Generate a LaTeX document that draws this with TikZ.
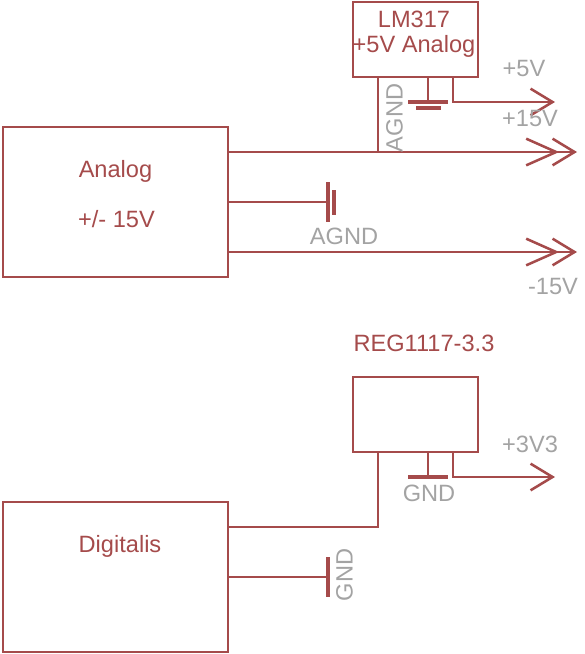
\documentclass[tikz,border=0pt]{standalone}
\usepackage{fontspec}
\setmainfont{Liberation Sans}
\usetikzlibrary{arrows.meta}
\definecolor{wirered}{HTML}{A54B4B}
\definecolor{pingray}{HTML}{A3A3A3}
\tikzset{
 block/.style={draw=wirered,line width=1.9pt,rectangle,inner sep=0pt},
 wire/.style={draw=wirered,line width=1.9pt},
 bar/.style={draw=wirered,line width=2.7pt},
 redtxt/.style={text=wirered,inner sep=0pt},
 graytxt/.style={text=pingray,inner sep=0pt},
 chev/.style={-{Straight Barb[length=16.5pt,width=20pt,line width=1.9pt]}},
 dblchev/.style={-{Straight Barb[length=22.5pt,width=20pt,line width=1.9pt,sep=-6pt]Straight Barb[length=16.5pt,width=20pt,line width=1.9pt]}}
}
\begin{document}
\begin{tikzpicture}[x=.75pt,y=-.75pt,font=\fontsize{17.7}{20}\selectfont]
\useasboundingbox (0,0) rectangle (585,654);
% blocks
\node[block,minimum width=168.75pt,minimum height=112.5pt] (analog) at (115.5,202) {};
\node[block,minimum width=168.75pt,minimum height=112.5pt] (digitalis) at (115.5,577) {};
\node[block,minimum width=93.75pt,minimum height=56.25pt] (lm317) at (415.5,39.5) {};
\node[block,minimum width=93.75pt,minimum height=56.25pt] (reg1117) at (415.5,414.5) {};
% free ends
\foreach \nam/\x/\y in {aplus/228/152,aground/228/202,aminus/228/252,agndbar/328/202,
 plusjoin/378/152,plustip/577/152,minustip/577/252,
 lmin/378/77,lmgnd/428/77,lmgndbar/428/102,lmout/453/77,lmbend/453/102,lmtip/555/102,
 dplus/228/527,dbend/378/527,regin/378/452,reggnd/428/452,reggndbar/428/477,
 regout/453/452,regbend/453/477,regtip/555/477,dground/228/577,dgndbar/328/577}{
 \coordinate (\nam) at (\x,\y);
}
% analog side
\draw[wire,dblchev] (aplus)--(plustip);
\draw[wire,dblchev] (aminus)--(minustip);
\draw[wire] (aground)--(agndbar);
\draw[bar] (agndbar) ++(0,-20)--++(0,40);
\draw[bar] (agndbar) ++(6,-12)--++(0,25);
\draw[wire] (lmin)--(plusjoin);
\draw[wire] (lmgnd)--(lmgndbar);
\draw[bar] (lmgndbar) ++(-20,0)--++(40,0);
\draw[bar] (lmgndbar) ++(-12,6)--++(25,0);
\draw[wire,chev] (lmout)--(lmbend)--(lmtip);
% digital side
\draw[wire] (dplus)--(dbend)--(regin);
\draw[wire] (reggnd)--(reggndbar);
\draw[bar] (reggndbar) ++(-20,0)--++(40,0);
\draw[wire,chev] (regout)--(regbend)--(regtip);
\draw[wire] (dground)--(dgndbar);
\draw[bar] (dgndbar) ++(0,-20)--++(0,40);
% labels
\node[redtxt] (analogtxt) at (115.5,171.5) {Analog};
\node[redtxt] (rangetxt) at (116.5,219) {+/- 15V};
\node[redtxt] (digitxt) at (120,546.5) {Digitalis};
\node[redtxt] (lmtxt) at (414,19) {LM317};
\node[redtxt] (lmsub) at (414,46) {+5V Analog};
\node[redtxt] (regtxt) at (424,343.5) {REG1117-3.3};
\node[graytxt] (fivev) at (524,68.5) {+5V};
\node[graytxt] (fifteenv) at (530,118.5) {+15V};
\node[graytxt] (minusv) at (553,286.5) {-15V};
\node[graytxt] (agndtxt) at (344,236.5) {AGND};
\node[graytxt,rotate=90] (agndrot) at (394.5,118) {AGND};
\node[graytxt] (threev) at (530,444.5) {+3V3};
\node[graytxt] (gndtxt) at (429,493.5) {GND};
\node[graytxt,rotate=90] (gndrot) at (344.5,575) {GND};
\end{tikzpicture}
\end{document}
